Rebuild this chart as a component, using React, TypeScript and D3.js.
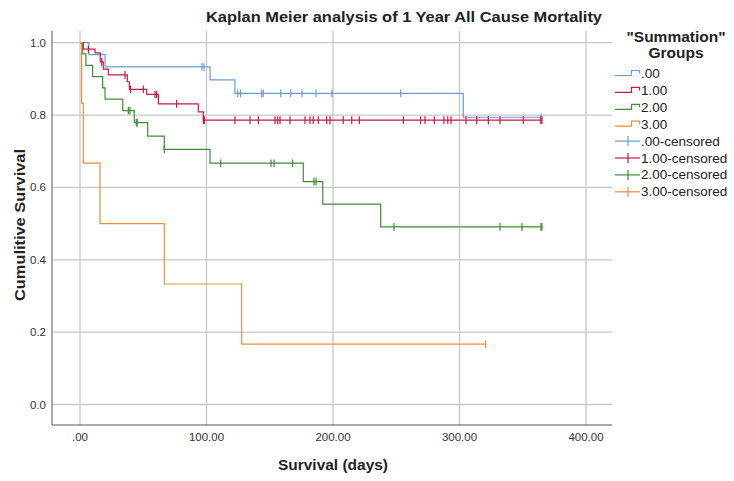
import React from "react";
import * as d3 from "d3";

// ---------- Data ----------
const groupNames = [".00", "1.00", "2.00", "3.00"];
const groupColors = ["#6b9bd9", "#c8174a", "#3e8c36", "#f28a3d"];

// event times (days) and survival after each event
const g0Times = [7, 19.8, 102.8, 122.5, 303];
const g0Surv = [0.967, 0.933, 0.897, 0.86, 0.794];
const g0Censor = [96.4, 98, 124.7, 127, 143.6, 144.9, 158.7, 166.6, 175.5, 186.6, 199.2, 253.5, 364.4];
const g0End = 364.4;

const g1Times = [2.6, 11.9, 16.0, 18.4, 22.4, 37.4, 39, 52.7, 62, 93.5, 97.5];
const g1Surv = [0.982, 0.972, 0.947, 0.927, 0.911, 0.892, 0.871, 0.857, 0.831, 0.809, 0.786];
const g1Censor = [6.6, 17.2, 35.6, 40, 50, 59.3, 60.6, 76.4, 97.5, 98.3, 122.5, 134.4, 141, 154.2, 156.3, 158.1, 166, 177.9, 181.8, 184.4, 188.4, 195, 197.6, 208.1, 214.8, 220.8, 255.6, 269.3, 272.7, 280.1, 287.7, 290.7, 293.3, 305.1, 313.6, 322.8, 332, 350.4, 364.2, 365.2];
const g1End = 365.2;

const g2Times = [2.1, 4.7, 10, 17.9, 19.8, 33.8, 42.9, 53.5, 66.6, 102.8, 176.5, 191.9, 237.7];
const g2Surv = [0.969, 0.9375, 0.906, 0.875, 0.844, 0.8125, 0.779, 0.742, 0.705, 0.667, 0.616, 0.554, 0.491];
const g2Censor = [38.2, 39.5, 44.5, 45.2, 66.6, 111.2, 151, 153.4, 168.1, 185, 186.6, 248.2, 332, 349.4, 364.4, 365.2];
const g2End = 365.2;

const g3Times = [1.3, 2.6, 15.8, 66.6, 127.8];
const g3Surv = [0.833, 0.667, 0.5, 0.333, 0.167];
const g3Censor = [320.7];
const g3End = 320.7;

const xTicks = [0, 100, 200, 300, 400];
const xTickLabels = [".00", "100.00", "200.00", "300.00", "400.00"];
const yTicks = [0, 0.2, 0.4, 0.6, 0.8, 1.0];
const yTickLabels = ["0.0", "0.2", "0.4", "0.6", "0.8", "1.0"];

const titleText = "Kaplan Meier analysis of 1 Year All Cause Mortality";
const xTitle = "Survival (days)";
const yTitle = "Cumulitive Survival";
const legendTitle1 = '"Summation"';
const legendTitle2 = "Groups";

const groups = [
  { times: g0Times, surv: g0Surv, censor: g0Censor, end: g0End },
  { times: g1Times, surv: g1Surv, censor: g1Censor, end: g1End },
  { times: g2Times, surv: g2Surv, censor: g2Censor, end: g2End },
  { times: g3Times, surv: g3Surv, censor: g3Censor, end: g3End },
];

const FONT = "'Liberation Sans', Arial, Helvetica, sans-serif";

export default function App() {
  const W = 734;
  const H = 481;
  const plotLeft = 52;
  const plotRight = 612;
  const plotTop = 31;
  const plotBottom = 425;

  const x = d3.scaleLinear().domain([0, 100]).range([80, 206.5]);
  const y = d3.scaleLinear().domain([0, 1]).range([404.5, 42.7]);

  const line = d3
    .line<[number, number]>()
    .x((d) => x(d[0]))
    .y((d) => y(d[1]))
    .curve(d3.curveStepAfter);

  const survAt = (g: typeof groups[number], t: number) => {
    let s = 1;
    for (let i = 0; i < g.times.length; i++) if (g.times[i] <= t) s = g.surv[i];
    return s;
  };

  const legendRows = [
    ...groupNames.map((n, i) => ({ label: n, color: groupColors[i], kind: "step" })),
    ...groupNames.map((n, i) => ({ label: n + "-censored", color: groupColors[i], kind: "cens" })),
  ];

  return (
    <svg width={W} height={H} style={{ position: "absolute", left: 0, top: 0, background: "#fff" }}>
      <rect width={W} height={H} fill="#fff" />
      {/* grid */}
      {yTicks.map((t) => (
        <line key={"gy" + t} x1={plotLeft} x2={plotRight} y1={y(t)} y2={y(t)} stroke="#c8c8c8" strokeWidth={1.3} />
      ))}
      {xTicks.map((t) => (
        <line key={"gx" + t} x1={x(t)} x2={x(t)} y1={plotTop} y2={plotBottom} stroke="#c8c8c8" strokeWidth={1.3} />
      ))}
      {/* axes */}
      <line x1={plotLeft} x2={plotLeft} y1={plotTop} y2={plotBottom} stroke="#555" strokeWidth={1} />
      <line x1={plotLeft} x2={plotRight} y1={plotBottom} y2={plotBottom} stroke="#555" strokeWidth={1} />
      {/* tick labels */}
      {yTicks.map((t, i) => (
        <text key={"yl" + t} x={46} y={y(t) + 4} textAnchor="end" fontFamily={FONT} fontSize={11.5} fill="#333">
          {yTickLabels[i]}
        </text>
      ))}
      {xTicks.map((t, i) => (
        <text key={"xl" + t} x={x(t)} y={441} textAnchor="middle" fontFamily={FONT} fontSize={11.5} fill="#333">
          {xTickLabels[i]}
        </text>
      ))}
      {/* curves */}
      {groups.map((g, gi) => {
        const pts: [number, number][] = [[0, 1]];
        g.times.forEach((t, i) => pts.push([t, g.surv[i]]));
        pts.push([g.end, g.surv[g.surv.length - 1]]);
        return (
          <g key={"c" + gi}>
            <path d={line(pts) || ""} fill="none" stroke={groupColors[gi]} strokeWidth={1.2} />
            {g.censor.map((c, ci) => (
              <line
                key={ci}
                x1={x(c)}
                x2={x(c)}
                y1={y(survAt(g, c)) - 3.8}
                y2={y(survAt(g, c)) + 3.8}
                stroke={groupColors[gi]}
                strokeWidth={1.2}
              />
            ))}
          </g>
        );
      })}
      {/* titles */}
      <text x={404} y={22} textAnchor="middle" fontFamily={FONT} fontWeight="bold" fontSize={15.5} fill="#222" textLength={396} lengthAdjust="spacingAndGlyphs">
        {titleText}
      </text>
      <text x={333} y={470} textAnchor="middle" fontFamily={FONT} fontWeight="bold" fontSize={15} fill="#222" textLength={110} lengthAdjust="spacingAndGlyphs">
        {xTitle}
      </text>
      <text transform="translate(25,225) rotate(-90)" textAnchor="middle" fontFamily={FONT} fontWeight="bold" fontSize={15} fill="#222" textLength={152} lengthAdjust="spacingAndGlyphs">
        {yTitle}
      </text>
      {/* legend */}
      <text x={676} y={42} textAnchor="middle" fontFamily={FONT} fontWeight="bold" fontSize={15.5} fill="#222">
        {legendTitle1}
      </text>
      <text x={676} y={58} textAnchor="middle" fontFamily={FONT} fontWeight="bold" fontSize={15.5} fill="#222">
        {legendTitle2}
      </text>
      {legendRows.map((r, i) => {
        const cy = 73.5 + i * 16.9;
        return (
          <g key={"lg" + i}>
            {r.kind === "step" ? (
              <path
                d={`M615,${cy + 2}H631.5V${cy - 3}H639.5V${cy}`}
                fill="none"
                stroke={r.color}
                strokeWidth={1.2}
              />
            ) : (
              <g>
                <line x1={615} x2={640} y1={cy} y2={cy} stroke={r.color} strokeWidth={1.2} />
                <line x1={628} x2={628} y1={cy - 5} y2={cy + 5} stroke={r.color} strokeWidth={1.2} />
              </g>
            )}
            <text x={641} y={cy + 4.5} fontFamily={FONT} fontSize={13.5} fill="#222">
              {r.label}
            </text>
          </g>
        );
      })}
    </svg>
  );
}
